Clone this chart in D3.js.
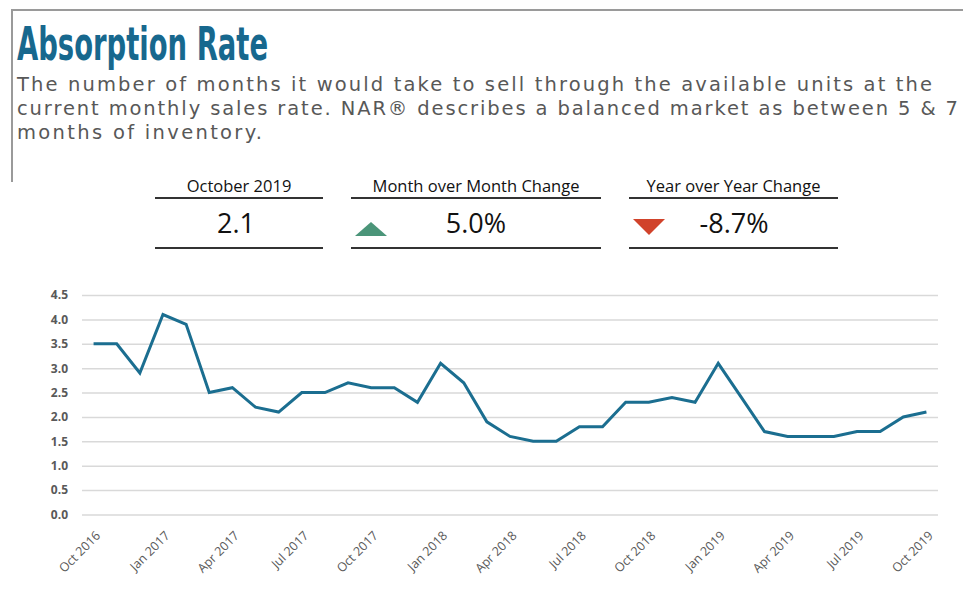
<!DOCTYPE html>
<html lang="en">
<head>
    <meta charset="UTF-8">
    <title>Absorption Rate</title>
    <script src="https://d3js.org/d3.v7.min.js"></script>
    <style>
        body {
            margin: 0;
            background: #fff;
            font-family: "Open Sans", Arial, sans-serif;
        }
        svg {
            display: block;
        }
    </style>
</head>
<body>
<div id="container"></div>

<script>
    // months on the x axis (one per point)
    const months = [
        "Oct 2016", "Nov 2016", "Dec 2016",
        "Jan 2017", "Feb 2017", "Mar 2017", "Apr 2017", "May 2017", "Jun 2017",
        "Jul 2017", "Aug 2017", "Sep 2017", "Oct 2017", "Nov 2017", "Dec 2017",
        "Jan 2018", "Feb 2018", "Mar 2018", "Apr 2018", "May 2018", "Jun 2018",
        "Jul 2018", "Aug 2018", "Sep 2018", "Oct 2018", "Nov 2018", "Dec 2018",
        "Jan 2019", "Feb 2019", "Mar 2019", "Apr 2019", "May 2019", "Jun 2019",
        "Jul 2019", "Aug 2019", "Sep 2019", "Oct 2019"
    ];

    // months of inventory
    const absorption = [
        3.5, 3.5, 2.9,
        4.1, 3.9, 2.5, 2.6, 2.2, 2.1,
        2.5, 2.5, 2.7, 2.6, 2.6, 2.3,
        3.1, 2.7, 1.9, 1.6, 1.5, 1.5,
        1.8, 1.8, 2.3, 2.3, 2.4, 2.3,
        3.1, 2.4, 1.7, 1.6, 1.6, 1.6,
        1.7, 1.7, 2.0, 2.1
    ];

    // labelled months
    const tickLabels = [
        "Oct 2016", "Jan 2017", "Apr 2017", "Jul 2017", "Oct 2017", "Jan 2018", "Apr 2018",
        "Jul 2018", "Oct 2018", "Jan 2019", "Apr 2019", "Jul 2019", "Oct 2019"
    ];

    const yTicks = [0, 0.5, 1, 1.5, 2, 2.5, 3, 3.5, 4, 4.5];

    // summary boxes
    const statHeaders = ["October 2019", "Month over Month Change", "Year over Year Change"];
    const statValues = ["2.1", "5.0%", "-8.7%"];
    const statArrows = ["none", "up", "down"];

    const subtitleLines = [
        "The number of months it would take to sell through the available units at the",
        "current monthly sales rate. NAR\u00AE describes a balanced market as between 5 & 7",
        "months of inventory."
    ];

    const width = 963, height = 598;

    const svg = d3.select('#container')
        .append('svg')
        .attr('width', width)
        .attr('height', height);

    // frame (top + left)
    svg.append('line')
        .attr('x1', 11).attr('x2', width).attr('y1', 10).attr('y2', 10)
        .attr('stroke', '#9a9a9a').attr('stroke-width', 2);
    svg.append('line')
        .attr('x1', 12).attr('x2', 12).attr('y1', 9).attr('y2', 182)
        .attr('stroke', '#9a9a9a').attr('stroke-width', 2);

    // title
    svg.append('text')
        .attr('x', 17)
        .attr('y', 60)
        .attr('fill', '#17688e')
        .style('font-family', '"DejaVu Sans Condensed", "DejaVu Sans", sans-serif')
        .style('font-stretch', 'condensed')
        .style('font-weight', 'bold')
        .style('font-size', '46px')
        .attr('textLength', 251)
        .attr('lengthAdjust', 'spacingAndGlyphs')
        .text('Absorption Rate');

    // subtitle
    const subWidths = [915, 941, 245];
    svg.selectAll('.subtitle')
        .data(subtitleLines)
        .enter()
        .append('text')
        .attr('class', 'subtitle')
        .attr('x', 17)
        .attr('y', (d, i) => 91 + i * 24)
        .attr('fill', '#585858')
        .style('font-family', '"DejaVu Sans", sans-serif')
        .style('font-size', '19.5px')
        .attr('textLength', (d, i) => subWidths[i])
        .attr('lengthAdjust', 'spacing')
        .text(d => d);

    // stat boxes
    const boxes = [
        {x0: 155, x1: 323, valueX: 236},
        {x0: 351, x1: 601, valueX: 476},
        {x0: 629, x1: 838, valueX: 734}
    ];

    const stat = svg.selectAll('.stat')
        .data(statHeaders)
        .enter()
        .append('g')
        .attr('class', 'stat');

    stat.append('text')
        .attr('x', (d, i) => (boxes[i].x0 + boxes[i].x1) / 2)
        .attr('y', 192)
        .attr('text-anchor', 'middle')
        .attr('fill', '#111')
        .style('font-size', '16.5px')
        .text(d => d);

    stat.append('line')
        .attr('x1', (d, i) => boxes[i].x0)
        .attr('x2', (d, i) => boxes[i].x1)
        .attr('y1', 198).attr('y2', 198)
        .attr('stroke', '#333').attr('stroke-width', 2);

    stat.append('line')
        .attr('x1', (d, i) => boxes[i].x0)
        .attr('x2', (d, i) => boxes[i].x1)
        .attr('y1', 248).attr('y2', 248)
        .attr('stroke', '#333').attr('stroke-width', 2);

    stat.append('text')
        .attr('x', (d, i) => boxes[i].valueX)
        .attr('y', 233)
        .attr('text-anchor', 'middle')
        .attr('fill', '#111')
        .style('font-size', '27px')
        .text((d, i) => statValues[i]);

    // arrows
    stat.filter((d, i) => statArrows[i] !== 'none')
        .append('path')
        .attr('d', function(d) {
            const i = statHeaders.indexOf(d);
            const x = boxes[i].x0 + 4;
            if (statArrows[i] === 'up') {
                return `M${x},236 L${x + 32},236 L${x + 16},222 Z`;
            }
            return `M${x},219 L${x + 32},219 L${x + 16},235 Z`;
        })
        .attr('fill', function(d) {
            const i = statHeaders.indexOf(d);
            return statArrows[i] === 'up' ? '#4b9579' : '#d1432b';
        });

    // chart area
    const plotLeft = 82, plotRight = 938, plotTop = 295, plotBottom = 514.5;

    const x = d3.scalePoint()
        .domain(months)
        .range([plotLeft, plotRight])
        .padding(0.5);

    const y = d3.scaleLinear()
        .domain([0, 4.5])
        .range([plotBottom, plotTop]);

    // gridlines + y labels
    const yAxis = svg.append('g')
        .attr('transform', `translate(${plotLeft},0)`)
        .call(d3.axisLeft(y)
            .tickValues(yTicks)
            .tickSize(-(plotRight - plotLeft))
            .tickPadding(14)
            .tickFormat(d3.format('.1f')));

    yAxis.select('.domain').remove();
    yAxis.selectAll('.tick line')
        .attr('stroke', '#d9d9d9')
        .attr('stroke-width', 1.5);
    yAxis.selectAll('.tick text')
        .attr('fill', '#595959')
        .style('font-family', '"Open Sans", sans-serif')
        .style('font-weight', 'bold')
        .style('font-size', '12px');

    // x labels
    const xAxis = svg.append('g')
        .attr('transform', `translate(0,${plotBottom})`)
        .call(d3.axisBottom(x)
            .tickValues(tickLabels)
            .tickSize(0)
            .tickPadding(0));

    xAxis.select('.domain').remove();
    xAxis.selectAll('.tick text')
        .attr('fill', '#595959')
        .style('font-family', '"Open Sans", sans-serif')
        .style('font-size', '12.5px')
        .attr('text-anchor', 'end')
        .attr('dy', 0)
        .attr('transform', 'translate(7,22) rotate(-45)');

    // line
    const line = d3.line()
        .x((d, i) => x(months[i]))
        .y(d => y(d));

    svg.append('path')
        .datum(absorption)
        .attr('fill', 'none')
        .attr('stroke', '#1b6e90')
        .attr('stroke-width', 3)
        .attr('stroke-linejoin', 'miter')
        .attr('d', line);
</script>
</body>
</html>
